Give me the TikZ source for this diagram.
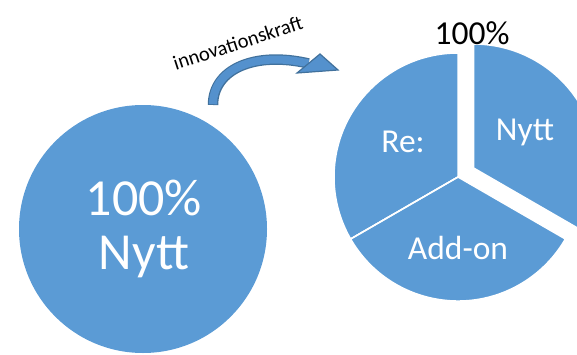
\documentclass[tikz,border=0pt]{standalone}
\usepackage{fontspec}
\setmainfont{Carlito}
\definecolor{pieblue}{RGB}{91,155,213}
\definecolor{arrowedge}{RGB}{65,113,156}
\definecolor{arrowfill}{RGB}{84,145,205}
\begin{document}
\begin{tikzpicture}[x=1pt,y=1pt,
  slice/.style={fill=pieblue,draw=white,line width=1.5pt,line join=round},
  whitetext/.style={text=white,inner sep=0pt,align=center},
  bigtext/.style={whitetext,font=\fontsize{52}{60}\selectfont},
  slicetext/.style={whitetext,font=\fontsize{33.5}{38}\selectfont}]
\useasboundingbox (0,0) rectangle (577,354);
% left circle
\node[circle,fill=pieblue,minimum size=248pt,inner sep=0pt] (whole) at (143,125) {};
\node[bigtext] (wholeA) at (144,156) {100\%};
\node[bigtext] (wholeB) at (144,97) {Nytt};
% pie
\coordinate (C) at (458,177);
\coordinate (Cn) at (473.6,186);
\fill[slice] (C) -- ++(90:124) arc[start angle=90,end angle=210,radius=124] -- cycle;
\fill[slice] (C) -- ++(210:124) arc[start angle=210,end angle=330,radius=124] -- cycle;
\fill[slice] (Cn) -- ++(-30:124) arc[start angle=-30,end angle=90,radius=124] -- cycle;
\draw[white,line width=1.5pt] (C) -- ++(210:124);
\node[slicetext] (re) at (403,212) {Re:};
\node[slicetext] (nytt) at (525,222) {Nytt};
\node[slicetext] (addon) at (458,106) {Add-on};
\node[inner sep=0pt,font=\fontsize{33.5}{38}\selectfont] (total) at (472,321) {100\%};
% curved arrow
\coordinate (astart) at (213,249);
\coordinate (aend) at (308.5,290.5);
\draw[arrowedge,line width=10.5pt] (astart) .. controls (213,285) and (255,303) .. (aend);
\draw[arrowfill,line width=8pt] ([yshift=0.8pt]astart) .. controls (213,285) and (255,303) .. (aend);
\coordinate (tip) at (338,284);
\coordinate (hu) at (320,300);
\coordinate (hl) at (297,281);
\filldraw[fill=arrowfill,draw=arrowedge,line width=1.2pt,line join=miter] (hu) -- (tip) -- (hl) -- cycle;
\node[anchor=base,rotate=18,inner sep=0pt,font=\fontsize{20.5}{24}\selectfont] (label) at (240,304.5) {innovationskraft};
\end{tikzpicture}
\end{document}
